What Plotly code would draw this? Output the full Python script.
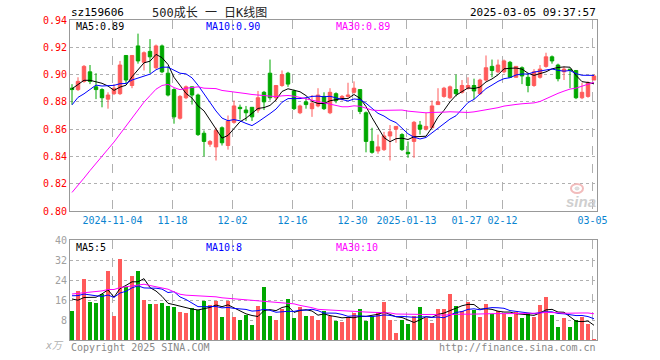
import numpy as np
import pandas as pd
import plotly.graph_objects as go

# ---------------- data ----------------
dates = [
    "2024-10-24", "2024-10-25", "2024-10-28", "2024-10-29", "2024-10-30", "2024-10-31",
    "2024-11-01", "2024-11-04", "2024-11-05", "2024-11-06", "2024-11-07", "2024-11-08",
    "2024-11-11", "2024-11-12", "2024-11-13", "2024-11-14", "2024-11-15", "2024-11-18",
    "2024-11-19", "2024-11-20", "2024-11-21", "2024-11-22", "2024-11-25", "2024-11-26",
    "2024-11-27", "2024-11-28", "2024-11-29", "2024-12-02", "2024-12-03", "2024-12-04",
    "2024-12-05", "2024-12-06", "2024-12-09", "2024-12-10", "2024-12-11", "2024-12-12",
    "2024-12-13", "2024-12-16", "2024-12-17", "2024-12-18", "2024-12-19", "2024-12-20",
    "2024-12-23", "2024-12-24", "2024-12-25", "2024-12-26", "2024-12-27", "2024-12-30",
    "2024-12-31", "2025-01-02", "2025-01-03", "2025-01-06", "2025-01-07", "2025-01-08",
    "2025-01-09", "2025-01-10", "2025-01-13", "2025-01-14", "2025-01-15", "2025-01-16",
    "2025-01-17", "2025-01-20", "2025-01-21", "2025-01-22", "2025-01-23", "2025-01-24",
    "2025-01-27", "2025-02-05", "2025-02-06", "2025-02-07", "2025-02-10", "2025-02-11",
    "2025-02-12", "2025-02-13", "2025-02-14", "2025-02-17", "2025-02-18", "2025-02-19",
    "2025-02-20", "2025-02-21", "2025-02-24", "2025-02-25", "2025-02-26", "2025-02-27",
    "2025-02-28", "2025-03-03", "2025-03-04", "2025-03-05",
]

open_ = [
    0.890, 0.889, 0.895, 0.902, 0.891, 0.889, 0.882, 0.886, 0.886, 0.914,
    0.892, 0.921, 0.909, 0.917, 0.905, 0.921, 0.901, 0.889, 0.868, 0.883,
    0.891, 0.885, 0.857, 0.849, 0.847, 0.861, 0.848, 0.865, 0.876, 0.874,
    0.876, 0.874, 0.887, 0.901, 0.883, 0.892, 0.901, 0.888, 0.872, 0.880,
    0.875, 0.877, 0.884, 0.872, 0.886, 0.882, 0.884, 0.887, 0.889, 0.872,
    0.851, 0.844, 0.845, 0.855, 0.860, 0.856, 0.843, 0.851, 0.863, 0.860,
    0.861, 0.878, 0.884, 0.883, 0.889, 0.887, 0.890, 0.892, 0.886, 0.896,
    0.906, 0.902, 0.902, 0.909, 0.898, 0.905, 0.898, 0.892, 0.898, 0.906,
    0.913, 0.907, 0.902, 0.904, 0.903, 0.883, 0.884, 0.896,
]
high = [
    0.893, 0.898, 0.907, 0.907, 0.901, 0.890, 0.887, 0.893, 0.910, 0.914,
    0.914, 0.930, 0.917, 0.926, 0.922, 0.922, 0.906, 0.890, 0.885, 0.892,
    0.891, 0.886, 0.859, 0.852, 0.861, 0.862, 0.870, 0.881, 0.878, 0.877,
    0.876, 0.888, 0.888, 0.911, 0.892, 0.903, 0.902, 0.889, 0.878, 0.883,
    0.885, 0.890, 0.887, 0.890, 0.887, 0.885, 0.894, 0.895, 0.889, 0.873,
    0.861, 0.856, 0.858, 0.863, 0.862, 0.857, 0.851, 0.866, 0.866, 0.872,
    0.881, 0.890, 0.891, 0.892, 0.900, 0.896, 0.898, 0.897, 0.897, 0.914,
    0.911, 0.911, 0.911, 0.910, 0.906, 0.906, 0.901, 0.904, 0.907, 0.916,
    0.914, 0.908, 0.906, 0.904, 0.903, 0.894, 0.895, 0.900,
]
low = [
    0.878, 0.888, 0.894, 0.893, 0.882, 0.876, 0.875, 0.885, 0.885, 0.893,
    0.890, 0.908, 0.903, 0.901, 0.904, 0.901, 0.884, 0.864, 0.867, 0.882,
    0.878, 0.855, 0.840, 0.847, 0.837, 0.848, 0.845, 0.864, 0.867, 0.866,
    0.866, 0.872, 0.874, 0.881, 0.881, 0.891, 0.891, 0.874, 0.871, 0.875,
    0.869, 0.876, 0.874, 0.871, 0.879, 0.881, 0.883, 0.886, 0.871, 0.843,
    0.842, 0.842, 0.844, 0.837, 0.850, 0.844, 0.839, 0.839, 0.856, 0.859,
    0.861, 0.878, 0.883, 0.882, 0.884, 0.886, 0.889, 0.882, 0.885, 0.895,
    0.898, 0.901, 0.901, 0.898, 0.898, 0.893, 0.887, 0.891, 0.897, 0.905,
    0.908, 0.895, 0.896, 0.890, 0.882, 0.882, 0.883, 0.896,
]
close = [
    0.889, 0.895, 0.906, 0.895, 0.889, 0.883, 0.885, 0.890, 0.907, 0.896,
    0.914, 0.910, 0.916, 0.913, 0.921, 0.902, 0.885, 0.869, 0.884, 0.891,
    0.885, 0.856, 0.851, 0.851, 0.859, 0.850, 0.866, 0.877, 0.875, 0.872,
    0.869, 0.883, 0.880, 0.883, 0.892, 0.900, 0.893, 0.875, 0.877, 0.878,
    0.879, 0.885, 0.875, 0.887, 0.881, 0.884, 0.885, 0.890, 0.873, 0.851,
    0.843, 0.847, 0.855, 0.858, 0.862, 0.845, 0.842, 0.865, 0.860, 0.862,
    0.877, 0.880, 0.890, 0.891, 0.886, 0.892, 0.892, 0.888, 0.896, 0.905,
    0.903, 0.907, 0.910, 0.898, 0.906, 0.899, 0.892, 0.902, 0.904, 0.913,
    0.910, 0.897, 0.904, 0.903, 0.883, 0.887, 0.894, 0.899,
]
# volume, unit: 万
volume = [
    11.6, 19.6, 24.4, 15.1, 14.8, 18.4, 27.6, 9.7, 32.4, 21.1,
    25.6, 27.6, 16.0, 14.4, 14.4, 14.9, 13.7, 13.3, 11.3, 10.8,
    12.7, 12.0, 15.6, 14.0, 15.7, 9.3, 15.7, 9.3, 8.0, 10.0,
    6.0, 13.7, 21.3, 9.7, 8.0, 12.3, 16.4, 8.9, 13.3, 9.7,
    9.7, 8.0, 11.6, 9.7, 7.7, 7.3, 8.9, 10.9, 12.5, 7.6,
    9.5, 10.9, 15.2, 8.0, 2.9, 8.0, 6.5, 9.7, 13.3, 8.9,
    6.9, 12.4, 12.4, 18.4, 13.6, 11.7, 15.2, 12.0, 9.3, 14.4,
    10.3, 11.6, 10.3, 9.3, 11.1, 8.9, 10.7, 9.3, 14.0, 17.3,
    10.0, 5.3, 8.9, 5.3, 8.0, 9.3, 6.4, 0.4,
]
# estimated closes / volumes of the 29 sessions before the window (2024-09-04 .. 2024-10-23),
# only used so the moving averages start where the chart shows them
prior_close = [
    0.745, 0.740, 0.730, 0.725, 0.728, 0.732, 0.735, 0.730, 0.728, 0.735,
    0.737, 0.735, 0.770, 0.780, 0.820, 0.860, 0.940, 0.930, 0.860, 0.870,
    0.840, 0.880, 0.860, 0.860, 0.890, 0.880, 0.890, 0.895, 0.894,
]
prior_volume = [
    12, 11, 10, 12, 10, 11, 10, 9, 11, 12,
    14, 13, 30, 28, 27, 32, 45, 40, 22, 16,
    19, 18, 20, 17, 21, 22, 19, 15, 14.4,
]

tick_dates = ["2024-11-04", "2024-11-18", "2024-12-02", "2024-12-16", "2024-12-30",
              "2025-01-13", "2025-01-27", "2025-02-12", "2025-03-05"]
tick_labels = ["2024-11-04", "11-18", "12-02", "12-16", "12-30",
               "2025-01-13", "01-27", "02-12", "03-05"]

symbol = "sz159606"
title = "500成长 一 日K线图"
stamp = "2025-03-05 09:37:57"

# ---------------- computations ----------------
n = len(dates)
x = np.arange(n)
npre = len(prior_close)
cs = pd.Series(prior_close + close)
vs = pd.Series(prior_volume + volume)
ma = {k: cs.rolling(k).mean().to_numpy()[npre:] for k in (5, 10, 30)}
vma = {k: vs.rolling(k).mean().to_numpy()[npre:] for k in (5, 10, 30)}

tickvals = [dates.index(d) - 0.25 for d in tick_dates]

RED = "#ff5a5a"
GREEN = "#00a800"
MA_COL = {5: "#000000", 10: "#0000ff", 30: "#ff00ff"}
MONO = "DejaVu Sans Mono, Liberation Mono, monospace"
CJK = "DejaVu Sans Mono, Noto Sans CJK SC, sans-serif"

fig = go.Figure()
fig.add_trace(go.Candlestick(
    x=x, open=open_, high=high, low=low, close=close,
    increasing=dict(line=dict(color=RED, width=1), fillcolor=RED),
    decreasing=dict(line=dict(color=GREEN, width=1), fillcolor=GREEN),
    whiskerwidth=0, xaxis="x", yaxis="y", showlegend=False, hoverinfo="skip",
))
for k in (5, 10, 30):
    fig.add_trace(go.Scatter(x=x, y=ma[k], mode="lines", line=dict(color=MA_COL[k], width=1),
                             xaxis="x", yaxis="y", showlegend=False, hoverinfo="skip"))

vcolors = [RED if c >= o else GREEN for o, c in zip(open_, close)]
fig.add_trace(go.Bar(x=x, y=volume, marker=dict(color=vcolors, line=dict(width=0)), width=0.82,
                     xaxis="x2", yaxis="y2", showlegend=False, hoverinfo="skip"))
for k in (5, 10, 30):
    fig.add_trace(go.Scatter(x=x, y=vma[k], mode="lines", line=dict(color=MA_COL[k], width=1),
                             xaxis="x2", yaxis="y2", showlegend=False, hoverinfo="skip"))

L, R, T, B = 70, 597, 20, 340
W, H = 660, 360


def px(xp):
    return (xp - L) / (R - L)


def py(yp):
    return (B - yp) / (B - T)


xr = [-1 / 3, n - 0.5]
grid = "#b0b0b0"
frame = "#999999"
common_x = dict(range=xr, tickvals=tickvals, showgrid=True, gridcolor=grid, griddash="dash",
                gridwidth=1, showline=True, mirror=True, linecolor=frame, linewidth=1,
                ticks="", zeroline=False, fixedrange=True)
fig.update_layout(
    width=W, height=H,
    margin=dict(l=L, r=W - R, t=T, b=H - B, pad=0),
    paper_bgcolor="white", plot_bgcolor="white",
    boxgap=0.18,
    xaxis=dict(**common_x, domain=[0, 1], anchor="y", ticktext=tick_labels,
               tickfont=dict(family=MONO, size=10, color="#0a84d0"),
               rangeslider=dict(visible=False)),
    yaxis=dict(domain=[py(211), 1], range=[0.80, 0.94], anchor="x",
               tickvals=[0.80, 0.82, 0.84, 0.86, 0.88, 0.90, 0.92, 0.94],
               ticktext=["0.80", "0.82", "0.84", "0.86", "0.88", "0.90", "0.92", "0.94"],
               tickfont=dict(family=MONO, size=10, color="#ff0000"),
               showgrid=True, gridcolor=grid, griddash="dot", showline=True, mirror=True,
               linecolor=frame, linewidth=1, ticks="", zeroline=False),
    xaxis2=dict(**common_x, domain=[0, 1], anchor="y2", showticklabels=False),
    yaxis2=dict(domain=[0, py(240)], range=[0, 40], anchor="x2",
                tickvals=[8, 16, 24, 32, 40], ticktext=["8", "16", "24", "32", "40"],
                tickfont=dict(family=MONO, size=10, color="#a0a0a0"),
                showgrid=True, gridcolor=grid, griddash="dot", showline=True, mirror=True,
                linecolor=frame, linewidth=1, ticks="", zeroline=False),
    bargap=0,
)

ann = []


def text(t, xpix, ypix, color, size=10, anchor="left", family=MONO):
    ann.append(dict(text=t, x=px(xpix), y=py(ypix), xref="paper", yref="paper",
                    xanchor=anchor, yanchor="middle", showarrow=False,
                    font=dict(family=family, size=size, color=color)))


text(symbol, 69, 13, "#000000", 11)
text(title, 209, 13, "#222222", 12, "center", CJK)
text(stamp, 598, 13, "#000000", 11, "right")
text(f"MA5:{ma[5][-1]:.2f}", 74, 27, MA_COL[5])
text(f"MA10:{ma[10][-1]:.2f}", 204, 27, MA_COL[10])
text(f"MA30:{ma[30][-1]:.2f}", 334, 27, MA_COL[30])
text(f"MA5:{int(vma[5][-1])}", 74, 247, MA_COL[5])
text(f"MA10:{int(vma[10][-1])}", 204, 247, MA_COL[10])
text(f"MA30:{int(vma[30][-1])}", 334, 247, MA_COL[30])
text("Copyright 2025 SINA.COM", 69, 347, "#888888", 10)
text("http://finance.sina.com.cn", 598, 347, "#888888", 10, "right")
text("<i>x万</i>", 66, 345, "#b0b0b0", 10, "right", CJK)
text("<b><i>sina</i></b>", 598, 201, "#cfcfcf", 15, "right", "Arial, Liberation Sans, sans-serif")
fig.update_layout(annotations=ann)

# sina "eye" mark of the watermark
fig.add_shape(type="circle", xref="paper", yref="paper",
              x0=px(571), x1=px(583), y0=py(193), y1=py(184),
              line=dict(color="#f2bcbc", width=2), fillcolor="rgba(0,0,0,0)")
fig.add_shape(type="circle", xref="paper", yref="paper",
              x0=px(575), x1=px(579), y0=py(190), y1=py(187),
              line=dict(color="#d8d8d8", width=1), fillcolor="#e0e0e0")

fig.write_html("out.html", config={"displayModeBar": False, "staticPlot": True},
               post_script="document.body.style.margin='0';")
